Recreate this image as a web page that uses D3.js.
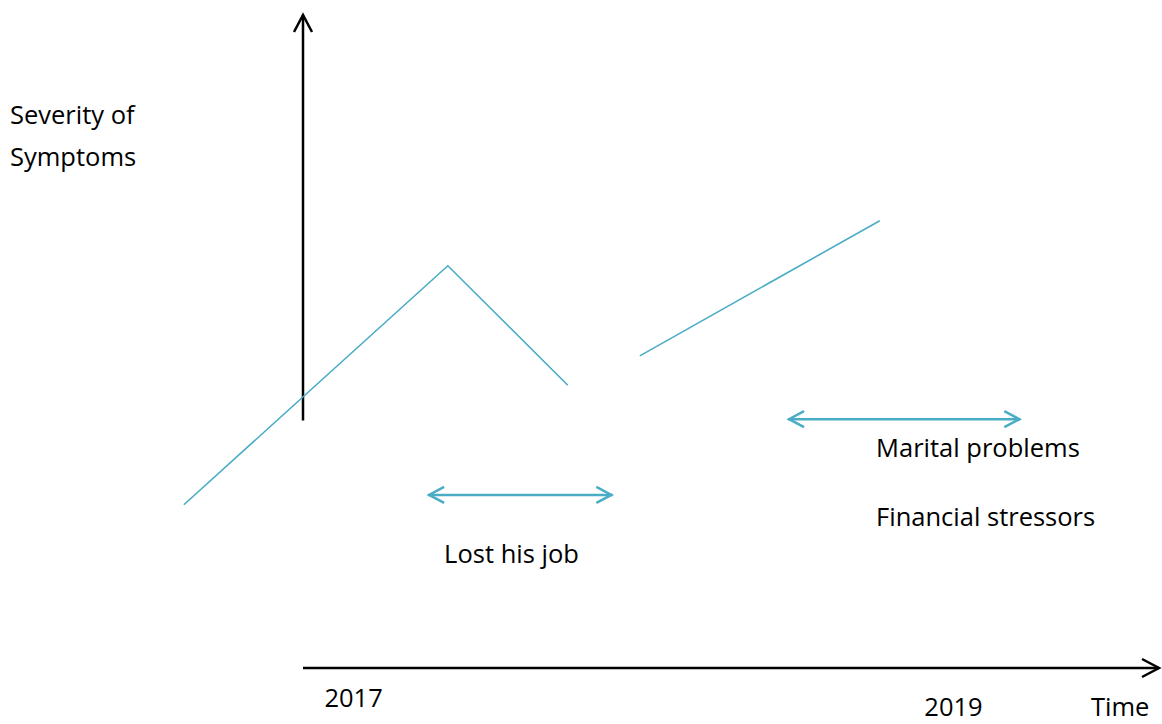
<!DOCTYPE html>
<html>
<head>
<meta charset="utf-8">
<script src="https://cdn.jsdelivr.net/npm/d3@7"></script>
<style>
  body { margin: 0; background: #fff; }
  text { font-family: "Open Sans", Lato, sans-serif; fill: #000; }
</style>
</head>
<body>
<div id="chart"></div>
<script>
// time runs 0..100 along the x axis, severity 0..100 up the y axis
var episode1 = [[-13.9, 25.0], [16.9, 61.6], [30.9, 43.3]];
var episode2 = [[39.3, 47.8], [67.3, 68.5]];

var events = ["Lost his job", "Marital problems"];
var eventStart = [14.6, 56.6];
var eventEnd = [36.1, 83.7];
var eventLevel = [26.5, 38.1];

var yearLabels = ["2017", "2019"];
var yearValues = [2.5, 72.5];

var svgWidth = 1162;
var svgHeight = 724;

var svg = d3.select("#chart")
    .append("svg")
    .attr("width", svgWidth)
    .attr("height", svgHeight);

var xScale = d3.scaleLinear().domain([0, 100]).range([303, 1160]);
var yScale = d3.scaleLinear().domain([0, 100]).range([668, 15]);

var blue = "#4bacc6";

// y axis (stops short of the x axis)
var yAxisTop = 100, yAxisBottom = 37.9;
svg.append("line")
    .attr("x1", xScale(0)).attr("x2", xScale(0))
    .attr("y1", yScale(yAxisTop)).attr("y2", yScale(yAxisBottom))
    .attr("stroke", "#000").attr("stroke-width", 2.5);
svg.append("path")
    .attr("d", `M${xScale(0) - 9},${yScale(yAxisTop) + 17} L${xScale(0)},${yScale(yAxisTop)} L${xScale(0) + 9},${yScale(yAxisTop) + 17}`)
    .attr("fill", "none").attr("stroke", "#000").attr("stroke-width", 2.5);

// x axis
svg.append("line")
    .attr("x1", xScale(0)).attr("x2", xScale(100) - 1)
    .attr("y1", yScale(0)).attr("y2", yScale(0))
    .attr("stroke", "#000").attr("stroke-width", 2.5);
svg.append("path")
    .attr("d", `M${xScale(100) - 18},${yScale(0) - 9} L${xScale(100) - 1},${yScale(0)} L${xScale(100) - 18},${yScale(0) + 9}`)
    .attr("fill", "none").attr("stroke", "#000").attr("stroke-width", 2.5);

// symptom lines
var line = d3.line().x(d => xScale(d[0])).y(d => yScale(d[1]));
svg.selectAll(".episode")
    .data([episode1, episode2])
    .enter()
    .append("path")
    .attr("class", "episode")
    .attr("d", line)
    .attr("fill", "none")
    .attr("stroke", blue)
    .attr("stroke-width", 1.6);

// event arrows
events.forEach(function(name, i) {
    var x1 = xScale(eventStart[i]), x2 = xScale(eventEnd[i]), y = yScale(eventLevel[i]);
    var g = svg.append("g").attr("stroke", blue).attr("stroke-width", 2.5).attr("fill", "none");
    g.append("line").attr("x1", x1).attr("x2", x2).attr("y1", y).attr("y2", y);
    g.append("path").attr("d", `M${x1 + 16},${y - 8} L${x1 + 1},${y} L${x1 + 16},${y + 8}`);
    g.append("path").attr("d", `M${x2 - 16},${y - 8} L${x2 - 1},${y} L${x2 - 16},${y + 8}`);
});

// labels
var fs = 25.5;
svg.append("text").attr("x", 10).attr("y", 124).attr("font-size", fs).text("Severity of");
svg.append("text").attr("x", 10).attr("y", 166).attr("font-size", fs).text("Symptoms");

svg.append("text").attr("x", xScale(eventStart[0]) + 16).attr("y", yScale(eventLevel[0]) + 68)
    .attr("font-size", fs).text(events[0]);
svg.append("text").attr("x", xScale(eventStart[1]) + 88).attr("y", yScale(eventLevel[1]) + 38)
    .attr("font-size", fs).text(events[1]);
svg.append("text").attr("x", xScale(eventStart[1]) + 88).attr("y", yScale(eventLevel[1]) + 107)
    .attr("font-size", fs).text("Financial stressors");

svg.selectAll(".year")
    .data(yearLabels)
    .enter()
    .append("text")
    .attr("class", "year")
    .attr("x", (d, i) => xScale(yearValues[i]))
    .attr("y", (d, i) => i === 0 ? 707 : 716)
    .attr("font-size", fs)
    .text(d => d);

svg.append("text").attr("x", 1091).attr("y", 716).attr("font-size", fs).text("Time");
</script>
</body>
</html>
